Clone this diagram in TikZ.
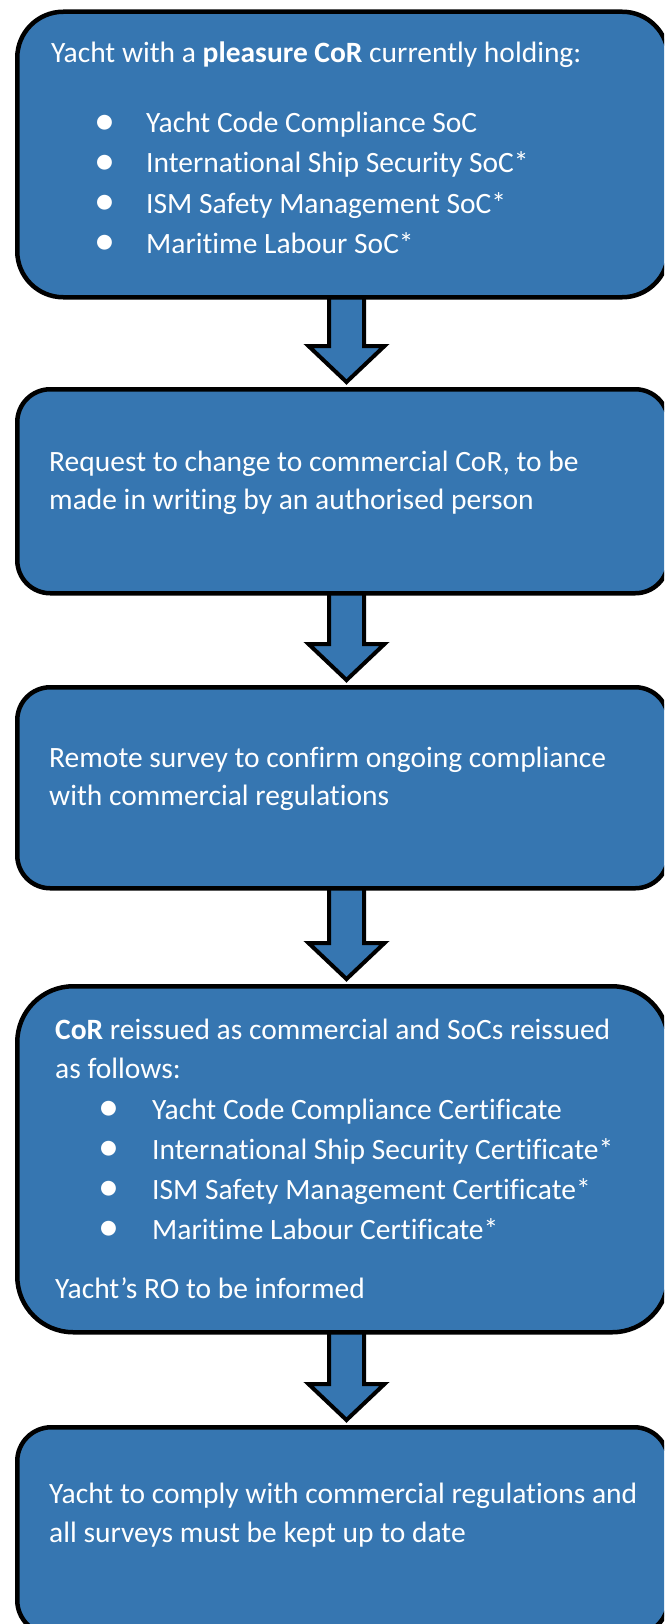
\documentclass[tikz,border=0pt]{standalone}
\usepackage{fontspec}
\setmainfont[Ligatures=NoCommon]{Carlito}
\usetikzlibrary{calc}
\pgfdeclarelayer{background}
\pgfsetlayers{background,main}
\definecolor{boxblue}{RGB}{54,118,177}
\newcommand\bodysize{\fontsize{29.5}{40}\selectfont}
\newcommand\flowarrow[2]{%
  \begin{pgfonlayer}{background}
  \draw[blockarrow] let \p1=(#1.south), \p2=(#2.north),
      \n1={\y2+5pt}, \n2={\y2+41pt} in
    (329pt,\y1+10pt) -- (329pt,\n2) -- (308.5pt,\n2) -- (346.5pt,\n1)
    -- (384.5pt,\n2) -- (364pt,\n2) -- (364pt,\y1+10pt) -- cycle;
  \end{pgfonlayer}}
\tikzset{
  box/.style={draw=black, line width=4.5pt, fill=boxblue, rectangle,
    inner sep=0pt, anchor=north west, minimum width=651pt},
  blockarrow/.style={draw=black, line width=4pt, fill=boxblue, line join=miter},
  txt/.style={anchor=base west, inner sep=0pt, text=white, font=\bodysize},
  bul/.style={anchor=center, inner sep=0pt, text=white, font=\fontsize{42}{42}\selectfont},
}
\begin{document}
\begin{tikzpicture}[x=1pt,y=-1pt]
\useasboundingbox (0,0) rectangle (664,1624);
\clip (0,0) rectangle (664,1624);
% boxes
\node[box, minimum height=285.5pt, rounded corners=46pt] (b1) at (15,9.5) {};
\node[box, minimum height=204pt, rounded corners=33pt] (b2) at (15,387) {};
\node[box, minimum height=201pt, rounded corners=33pt] (b3) at (15,685) {};
\node[box, minimum height=346pt, rounded corners=56pt] (b4) at (15,984) {};
\node[box, minimum height=207pt, rounded corners=34pt] (b5) at (15,1425) {};
% arrows
\flowarrow{b1}{b2}
\flowarrow{b2}{b3}
\flowarrow{b3}{b4}
\flowarrow{b4}{b5}
% box 1 text
\node[txt] (t1) at (51,63) {Yacht with a \textbf{pleasure CoR} currently holding:};
\node[bul] (d11) at (105,125) {•};
\node[bul] (d12) at (105,165) {•};
\node[bul] (d13) at (105,205) {•};
\node[bul] (d14) at (105,245) {•};
\node[txt] (t11) at (146,133) {Yacht Code Compliance SoC};
\node[txt] (t12) at (146,173) {International Ship Security SoC*};
\node[txt] (t13) at (146,213) {ISM Safety Management SoC*};
\node[txt] (t14) at (146,253) {Maritime Labour SoC*};
% box 2 text
\node[txt] (t2a) at (49,471) {Request to change to commercial CoR, to be};
\node[txt] (t2b) at (49,509) {made in writing by an authorised person};
% box 3 text
\node[txt] (t3a) at (49,767) {Remote survey to confirm ongoing compliance};
\node[txt] (t3b) at (49,805) {with commercial regulations};
% box 4 text
\node[txt] (t4a) at (55,1039) {\textbf{CoR} reissued as commercial and SoCs reissued};
\node[txt] (t4b) at (55,1078) {as follows:};
\node[bul] (d41) at (109,1111) {•};
\node[bul] (d42) at (109,1151) {•};
\node[bul] (d43) at (109,1191) {•};
\node[bul] (d44) at (109,1231) {•};
\node[txt] (t41) at (152,1119) {Yacht Code Compliance Certificate};
\node[txt] (t42) at (152,1159) {International Ship Security Certificate*};
\node[txt] (t43) at (152,1199) {ISM Safety Management Certificate*};
\node[txt] (t44) at (152,1239) {Maritime Labour Certificate*};
\node[txt] (t45) at (55,1298) {Yacht’s RO to be informed};
% box 5 text
\node[txt] (t5a) at (49,1503) {Yacht to comply with commercial regulations and};
\node[txt] (t5b) at (49,1542) {all surveys must be kept up to date};
\end{tikzpicture}
\end{document}
